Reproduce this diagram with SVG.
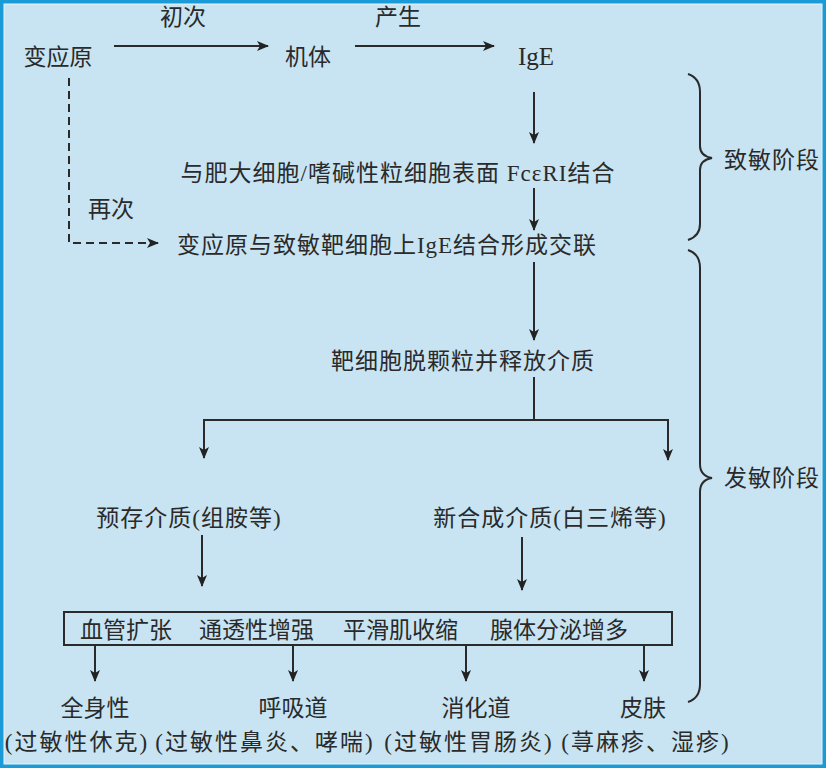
<svg xmlns="http://www.w3.org/2000/svg" width="826" height="768" viewBox="0 0 826 768">
<defs>
<marker id="ah" viewBox="0 0 12 10" refX="11" refY="5" markerWidth="12" markerHeight="10" markerUnits="userSpaceOnUse" orient="auto">
<path d="M0,0 L12,5 L0,10 L3,5 Z" fill="#222"/>
</marker>
<style>
text{font-family:"Liberation Serif","Noto Sans CJK SC",serif;font-size:23px;fill:#2a2a2a;}
.c{text-anchor:middle;}
.s1{letter-spacing:1px;}
.s2{letter-spacing:2px;}
.ln{stroke:#2a2a2a;stroke-width:2;fill:none;}
.ar{stroke:#2a2a2a;stroke-width:2;fill:none;marker-end:url(#ah);}
.da{stroke:#2a2a2a;stroke-width:2;fill:none;stroke-dasharray:8,5;marker-end:url(#ah);}
</style>
</defs>
<rect x="0" y="0" width="826" height="768" fill="#1a9ad6"/>
<rect x="4" y="4" width="818" height="760" fill="#c8e4f2" stroke="#e6f3fa" stroke-width="1"/>

<g id="connectors">
<line class="ar" x1="114" y1="46" x2="268" y2="46"/>
<line class="ar" x1="355" y1="46" x2="494" y2="46"/>
<line class="ar" x1="534" y1="92" x2="534" y2="143"/>
<line class="ar" x1="534" y1="188" x2="534" y2="230"/>
<polyline class="da" points="69,78 69,243 158,243"/>
<line class="ar" x1="534" y1="262" x2="534" y2="340"/>
<line class="ln" x1="534" y1="377" x2="534" y2="420"/>
<polyline class="ar" points="534,420 204,420 204,458"/>
<polyline class="ar" points="534,420 668,420 668,460"/>
<line class="ar" x1="202" y1="535" x2="202" y2="586"/>
<line class="ar" x1="522" y1="537" x2="522" y2="590"/>
<line class="ar" x1="95" y1="646" x2="95" y2="681"/>
<line class="ar" x1="293" y1="646" x2="293" y2="681"/>
<line class="ar" x1="466" y1="646" x2="466" y2="681"/>
<line class="ar" x1="644" y1="646" x2="644" y2="681"/>
<path class="ln" d="M688,74 Q700,78 700,92 L700,146 Q700,156 712,158 Q700,160 700,170 L700,224 Q700,236 688,240"/>
<path class="ln" d="M688,250 Q700,254 700,268 L700,464 Q700,476 712,478 Q700,480 700,492 L700,684 Q700,698 688,702"/>
</g>

<g id="n-allergen"><text class="c" x="58" y="65">变应原</text></g>
<g id="l-first"><text class="c" x="183" y="25">初次</text></g>
<g id="n-body"><text class="c" x="308" y="65">机体</text></g>
<g id="l-produce"><text class="c" x="398" y="25">产生</text></g>
<g id="n-ige"><text class="c" x="536" y="65" style="font-size:25px">IgE</text></g>
<g id="n-bind"><text class="c s1" x="398" y="181">与肥大细胞/嗜碱性粒细胞表面 FcεRI结合</text></g>
<g id="l-again"><text class="c" x="111" y="217">再次</text></g>
<g id="n-crosslink"><text class="c s1" x="387" y="253">变应原与致敏靶细胞上IgE结合形成交联</text></g>
<g id="n-degran"><text class="c s1" x="463" y="369">靶细胞脱颗粒并释放介质</text></g>
<g id="n-preformed"><text class="c s1" x="189" y="526">预存介质(组胺等)</text></g>
<g id="n-newsynth"><text class="c s1" x="550" y="526">新合成介质(白三烯等)</text></g>
<g id="n-effects">
<rect x="64" y="612" width="608" height="33" fill="none" stroke="#2a2a2a" stroke-width="2"/>
<text x="80" y="638">血管扩张</text>
<text x="199" y="638">通透性增强</text>
<text x="343" y="638">平滑肌收缩</text>
<text x="490" y="638">腺体分泌增多</text>
</g>
<g id="n-systemic"><text class="c" x="95" y="716">全身性</text><text class="c s2" x="77" y="750">(过敏性休克)</text></g>
<g id="n-resp"><text class="c" x="293" y="716">呼吸道</text><text class="c s2" x="265" y="750">(过敏性鼻炎、哮喘)</text></g>
<g id="n-digest"><text class="c" x="476" y="716">消化道</text><text class="c s2" x="469" y="750">(过敏性胃肠炎)</text></g>
<g id="n-skin"><text class="c" x="643" y="716">皮肤</text><text class="c s2" x="646" y="750">(荨麻疹、湿疹)</text></g>
<g id="l-sens"><text class="s1" x="724" y="168">致敏阶段</text></g>
<g id="l-elic"><text class="s1" x="724" y="486">发敏阶段</text></g>
</svg>
